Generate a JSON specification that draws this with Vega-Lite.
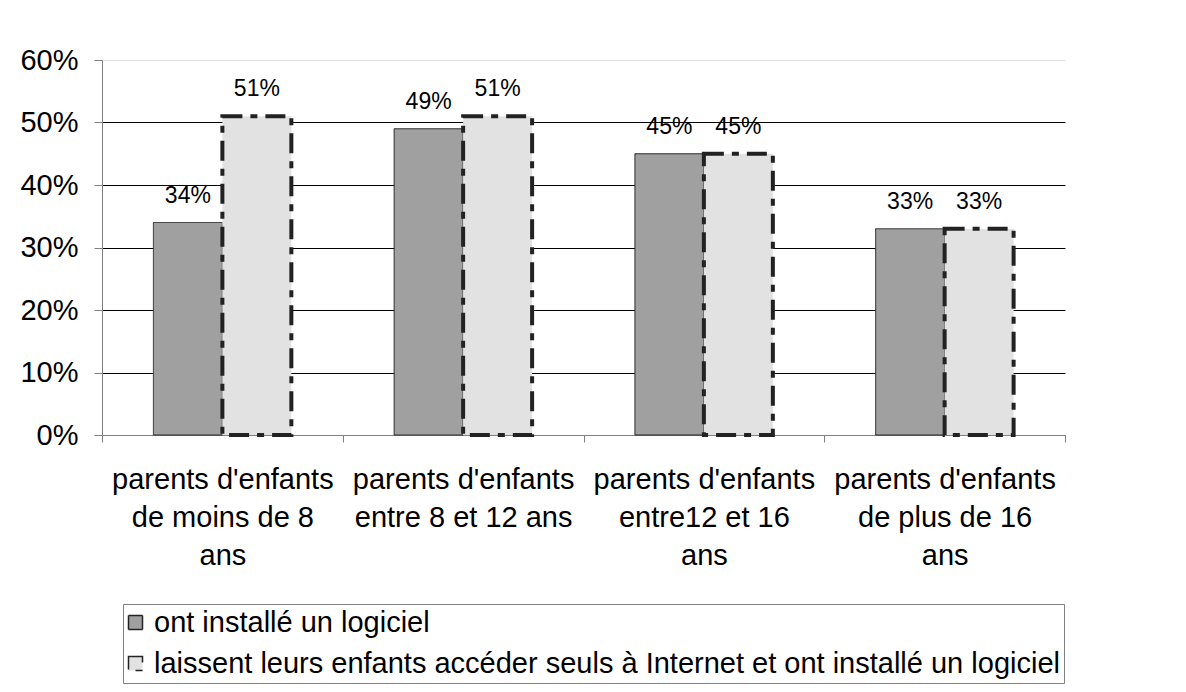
{
  "$schema": "https://vega.github.io/schema/vega-lite/v6.json",
  "width": 963,
  "height": 375,
  "autosize": {"type": "none"},
  "padding": {"left": 102, "top": 60, "right": 121, "bottom": 257},
  "background": "white",
  "config": {"font": "Liberation Sans", "view": {"stroke": null}},
  "data": {
    "values": [
      {"groupe": "parents d'enfants|de moins de 8|ans", "serie": "ont installé un logiciel", "valeur": 0.34},
      {"groupe": "parents d'enfants|de moins de 8|ans", "serie": "laissent leurs enfants accéder seuls à Internet et ont installé un logiciel", "valeur": 0.51},
      {"groupe": "parents d'enfants|entre 8 et 12 ans", "serie": "ont installé un logiciel", "valeur": 0.49},
      {"groupe": "parents d'enfants|entre 8 et 12 ans", "serie": "laissent leurs enfants accéder seuls à Internet et ont installé un logiciel", "valeur": 0.51},
      {"groupe": "parents d'enfants|entre12 et 16|ans", "serie": "ont installé un logiciel", "valeur": 0.45},
      {"groupe": "parents d'enfants|entre12 et 16|ans", "serie": "laissent leurs enfants accéder seuls à Internet et ont installé un logiciel", "valeur": 0.45},
      {"groupe": "parents d'enfants|de plus de 16|ans", "serie": "ont installé un logiciel", "valeur": 0.33},
      {"groupe": "parents d'enfants|de plus de 16|ans", "serie": "laissent leurs enfants accéder seuls à Internet et ont installé un logiciel", "valeur": 0.33}
    ]
  },
  "encoding": {
    "x": {
      "field": "groupe", "type": "nominal", "sort": null,
      "scale": {"paddingInner": 0, "paddingOuter": 0},
      "axis": {
        "title": null, "labelAngle": 0, "labelFontSize": 29, "labelColor": "black",
        "labelExpr": "split(datum.label, '|')", "labelLineHeight": 38,
        "labelPadding": 23, "labelBaseline": "top", "labelLimit": 0,
        "tickBand": "extent", "tickSize": 7, "tickColor": "#808080",
        "domainColor": "#808080", "grid": false
      }
    },
    "xOffset": {
      "field": "serie", "type": "nominal", "sort": null,
      "scale": {"paddingInner": 0, "paddingOuter": 0.745}
    },
    "y": {
      "field": "valeur", "type": "quantitative",
      "scale": {"domain": [0, 0.6]},
      "axis": {
        "values": [0, 0.1, 0.2, 0.3, 0.4, 0.5, 0.6], "format": ".0%", "title": null,
        "labelFontSize": 29, "labelColor": "black", "labelPadding": 16,
        "tickSize": 8, "tickColor": "#808080", "domainColor": "#808080",
        "grid": true,
        "gridColor": {"condition": {"test": "datum.value >= 0.59", "value": "#e0e0e0"}, "value": "black"},
        "gridOpacity": 1
      }
    }
  },
  "layer": [
    {
      "mark": {"type": "bar", "stroke": "#222"},
      "encoding": {
        "fill": {
          "field": "serie", "type": "nominal", "sort": null,
          "scale": {"range": ["#a0a0a0", "#e2e2e2"]},
          "legend": {
            "orient": "none", "legendX": 21, "legendY": 544, "title": null,
            "direction": "vertical", "labelFontSize": 29, "labelColor": "black",
            "symbolType": "square", "symbolSize": 196, "symbolStrokeColor": "#222",
            "symbolStrokeWidth": 1.5, "strokeColor": "#808080", "padding": 4,
            "rowPadding": 11, "labelLimit": 0, "labelOffset": 4, "symbolOffset": -6,
            "encode": {"symbols": {"update": {"stroke": {"value": "#222"}, "strokeWidth": {"value": 1.5}}}}
          }
        },
        "strokeDash": {
          "field": "serie", "type": "nominal", "sort": null,
          "scale": {"range": [[1, 0], [20, 8, 7, 8]]},
          "legend": {
            "orient": "none", "legendX": 21, "legendY": 544, "title": null,
            "direction": "vertical", "labelFontSize": 29, "labelColor": "black",
            "symbolType": "square", "symbolSize": 196, "symbolStrokeColor": "#222",
            "symbolStrokeWidth": 1.5, "strokeColor": "#808080", "padding": 4,
            "rowPadding": 11, "labelLimit": 0, "labelOffset": 4, "symbolOffset": -6,
            "encode": {"symbols": {"update": {"stroke": {"value": "#222"}, "strokeWidth": {"value": 1.5}}}}
          }
        },
        "strokeWidth": {
          "condition": {"test": "datum.serie == 'ont installé un logiciel'", "value": 1},
          "value": 4
        }
      }
    },
    {
      "mark": {"type": "text", "dy": -20, "baseline": "alphabetic", "fontSize": 23, "color": "black"},
      "encoding": {
        "text": {"field": "valeur", "type": "quantitative", "format": ".0%"}
      }
    }
  ]
}
